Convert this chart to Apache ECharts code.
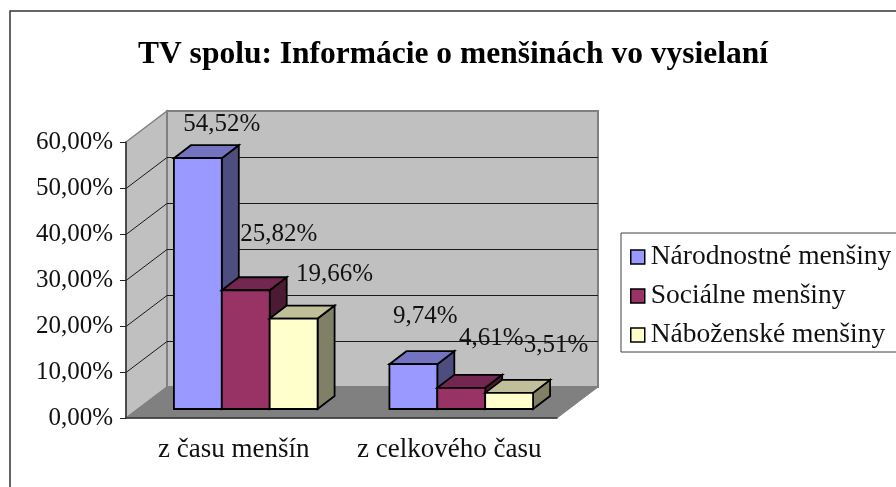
<!DOCTYPE html>
<html>
<head>
<meta charset="utf-8">
<title>TV spolu</title>
<style>
  html, body { margin: 0; padding: 0; background: #fff; }
  #chart { width: 896px; height: 487px; }
</style>
<script src="https://cdn.jsdelivr.net/npm/echarts@6/dist/echarts.min.js"></script>
</head>
<body>
<div id="chart"></div>
<script>
// hodnoty odčítané z grafu
const categories = ['z času menšín', 'z celkového času'];
const seriesNames = ['Národnostné menšiny', 'Sociálne menšiny', 'Náboženské menšiny'];
const narodnostne = [54.52, 9.74];
const socialne = [25.82, 4.61];
const nabozenske = [19.66, 3.51];
const gridValues = [10, 20, 30, 40, 50];

const fontName = '"Liberation Serif"';

// 3D pohľad: posun zadnej steny, posun čela stĺpca od prednej hrany, hĺbka stĺpca
const wallDepth = [41, -31];
const barFront = [12, -9];
const barDepth = [17, -13];

// farby stĺpcov: čelo, vrch, bok
const faces = [
  ['#9999FF', '#7373BF', '#4D4D80'],
  ['#993366', '#732650', '#4D1A33'],
  ['#FFFFCC', '#BFBF99', '#808066']
];
// posun popisov oproti stredu čela stĺpca, Excel ich uložil nepravidelne
const labelShift = [
  [[24, -34], [12, -48]],
  [[33, -56], [30, -49]],
  [[41, -44], [47, -47]]
];

function poly(points, fill, stroke, width) {
  return {
    type: 'polygon',
    shape: { points: points },
    style: { fill: fill, stroke: stroke, lineWidth: width, lineJoin: 'miter' }
  };
}

// bočná stena, zadná stena a podlaha
function renderWalls(params, api) {
  const top = api.coord([0, 60]);
  const bottom = api.coord([0, 0]);
  const band = api.size([1, 0])[0];
  const x0 = top[0] - band / 2;
  const x1 = x0 + band * 2;
  const dx = wallDepth[0];
  const dy = wallDepth[1];
  return {
    type: 'group',
    children: [
      poly([[x0, top[1]], [x0 + dx, top[1] + dy], [x0 + dx, bottom[1] + dy], [x0, bottom[1]]], '#C0C0C0', '#808080', 1.5),
      poly([[x0 + dx, top[1] + dy], [x1 + dx, top[1] + dy], [x1 + dx, bottom[1] + dy], [x0 + dx, bottom[1] + dy]], '#C0C0C0', '#808080', 2),
      poly([[x0, bottom[1]], [x0 + dx, bottom[1] + dy], [x1 + dx, bottom[1] + dy], [x1, bottom[1]]], '#808080', '#808080', 1)
    ]
  };
}

// mriežka ide po bočnej aj zadnej stene
function renderGrid(params, api) {
  const p = api.coord([0, api.value(0)]);
  const band = api.size([1, 0])[0];
  const x0 = p[0] - band / 2;
  const x1 = x0 + band * 2;
  const y = Math.round(p[1]) + 0.5;
  return {
    type: 'polyline',
    shape: { points: [[x0, y], [x0 + wallDepth[0], y + wallDepth[1]], [x1 + wallDepth[0], y + wallDepth[1]]] },
    style: { fill: null, stroke: '#1a1a1a', lineWidth: 1 }
  };
}

function barRenderer(index) {
  return function (params, api) {
    const base = api.coord([api.value(0), 0]);
    const head = api.coord([api.value(0), api.value(1)]);
    const w = api.size([1, 0])[0] / 4.5; // gap width 150 %
    const x0 = base[0] - 1.5 * w + index * w + barFront[0];
    const x1 = x0 + w;
    const y0 = base[1] + barFront[1];
    const y1 = head[1] + barFront[1];
    const dx = barDepth[0];
    const dy = barDepth[1];
    const shift = labelShift[index][params.dataIndex];
    return {
      type: 'group',
      children: [
        poly([[x1, y0], [x1 + dx, y0 + dy], [x1 + dx, y1 + dy], [x1, y1]], faces[index][2], '#000', 1.8),
        poly([[x0, y1], [x0 + dx, y1 + dy], [x1 + dx, y1 + dy], [x1, y1]], faces[index][1], '#000', 1.8),
        poly([[x0, y0], [x1, y0], [x1, y1], [x0, y1]], faces[index][0], '#000', 1.8),
        {
          type: 'text',
          z2: 50,
          style: {
            x: (x0 + x1) / 2 + shift[0],
            y: y1 + shift[1],
            text: api.value(1).toFixed(2).replace('.', ',') + '%',
            align: 'center',
            verticalAlign: 'middle',
            fill: '#111',
            font: '25px ' + fontName
          }
        }
      ]
    };
  };
}

function barSeries(index, values) {
  return {
    name: seriesNames[index],
    type: 'custom',
    z: 3 + index,
    itemStyle: { color: faces[index][0] },
    encode: { x: 0, y: 1 },
    data: values.map(function (v, i) { return [i, v]; }),
    renderItem: barRenderer(index)
  };
}

const myChart = echarts.init(document.getElementById('chart'), null, { renderer: 'canvas' });
myChart.setOption({
  animation: false,
  backgroundColor: '#fff',
  textStyle: { fontFamily: fontName },
  title: {
    text: 'TV spolu: Informácie o menšinách vo vysielaní',
    left: 448,
    top: 34,
    textAlign: 'center',
    textStyle: { fontFamily: fontName, fontWeight: 'bold', fontSize: 31.5, color: '#000' }
  },
  legend: {
    orient: 'vertical',
    left: 621,
    top: 233,
    padding: [10, 30, 3, 9],
    itemWidth: 14,
    itemHeight: 14,
    itemGap: 11,
    icon: 'rect',
    borderColor: '#404040',
    borderWidth: 1,
    itemStyle: { borderColor: '#000', borderWidth: 1.5 },
    textStyle: { fontFamily: fontName, fontSize: 27.5, color: '#111', padding: [0, 0, 0, 1] },
    data: seriesNames
  },
  grid: { left: 126, right: 339, top: 142, bottom: 69 },
  xAxis: {
    type: 'category',
    data: categories,
    z: 10,
    axisLine: { lineStyle: { color: '#333', width: 1.5 } },
    axisTick: { length: 6, lineStyle: { color: '#555' } },
    axisLabel: { interval: 0, hideOverlap: false, margin: 18, fontFamily: fontName, fontSize: 27, color: '#111' }
  },
  yAxis: {
    type: 'value',
    min: 0,
    max: 60,
    interval: 10,
    z: 10,
    splitLine: { show: false },
    axisLine: { show: true, lineStyle: { color: '#333', width: 1.5 } },
    axisTick: { show: true, length: 6, lineStyle: { color: '#222' } },
    axisLabel: {
      margin: 13,
      padding: [4, 0, 0, 0],
      fontFamily: fontName,
      fontSize: 25,
      color: '#111',
      formatter: function (v) { return v.toFixed(2).replace('.', ',') + '%'; }
    }
  },
  graphic: [{
    type: 'rect',
    shape: { x: 10, y: 11, width: 1000, height: 1000 },
    style: { fill: null, stroke: '#333', lineWidth: 1.5 },
    silent: true
  }],
  series: [
    { type: 'custom', z: 1, silent: true, data: [[0]], renderItem: renderWalls },
    { type: 'custom', z: 2, silent: true, data: gridValues.map(function (v) { return [v]; }), renderItem: renderGrid },
    barSeries(0, narodnostne),
    barSeries(1, socialne),
    barSeries(2, nabozenske)
  ]
});
</script>
</body>
</html>
